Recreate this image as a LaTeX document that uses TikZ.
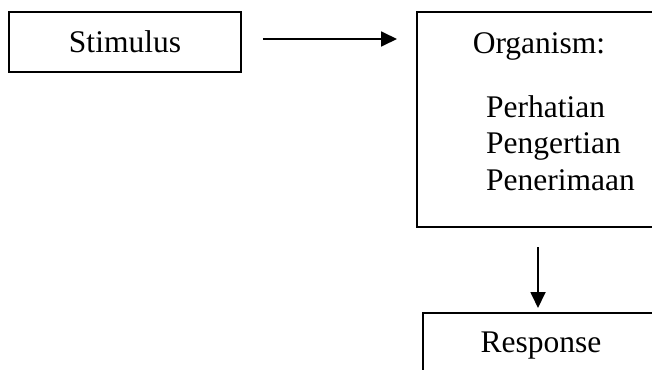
\documentclass[tikz,border=0pt]{standalone}
\usepackage{fontspec}
\setmainfont{Liberation Serif}
\usetikzlibrary{arrows.meta}
\begin{document}
\begin{tikzpicture}[x=1pt,y=-1pt,
  box/.style={draw=black,line width=1.8pt,rectangle,inner sep=0pt},
  lbl/.style={font=\fontsize{31.5}{36}\selectfont,inner sep=0pt},
  arr/.style={line width=1.8pt,-{Triangle[length=16pt,width=15pt]}}]
\useasboundingbox (0,0) rectangle (652,369);
\clip (0,0) rectangle (652,369);
\fill[white] (0,0) rectangle (652,369);
% boxes
\node[box,minimum width=232pt,minimum height=60pt,lbl] (stim) at (125,42) {Stimulus};
\node[box,minimum width=250pt,minimum height=215pt] (org) at (542,119.5) {};
\node[box,minimum width=250pt,minimum height=70pt] (resp) at (548,348) {};
% texts
\node[lbl,anchor=base] (orgt) at (539,53) {Organism:};
\node[lbl,anchor=base west] (l1) at (486,117) {Perhatian};
\node[lbl,anchor=base west] (l2) at (486,153.5) {Pengertian};
\node[lbl,anchor=base west] (l3) at (486,190) {Penerimaan};
\node[lbl,anchor=base] (respt) at (541,352) {Response};
% connectors
\coordinate (a1) at ([yshift=3pt]stim.east);
\coordinate (a2) at (417,39);
\coordinate (d1) at (538,227);
\coordinate (d2) at (538,313);
\draw[arr,shorten <=21pt,shorten >=20pt] (a1) -- (a2);
\draw[arr,shorten <=20pt,shorten >=5pt] (d1) -- (d2);
\end{tikzpicture}
\end{document}
